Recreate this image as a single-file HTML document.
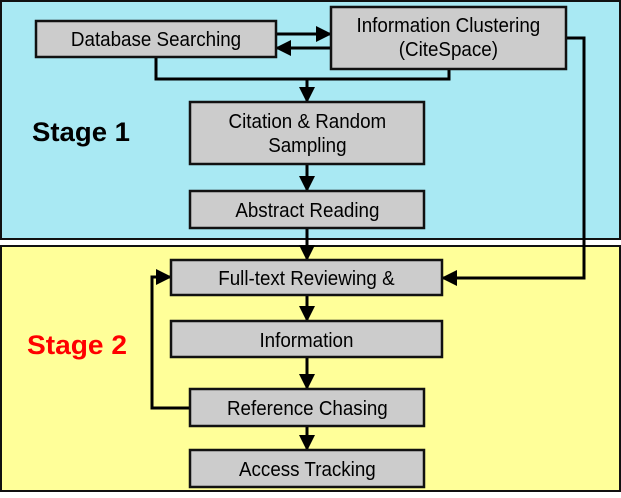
<!DOCTYPE html>
<html><head><style>
body{margin:0;width:621px;height:493px;overflow:hidden;background:#fff}
svg text{font-family:"Liberation Sans",sans-serif}
</style></head><body>
<svg width="621" height="493" viewBox="0 0 621 493" xmlns="http://www.w3.org/2000/svg">
<defs>
<marker id="b" markerWidth="16" markerHeight="16" refX="15" refY="8" orient="auto" markerUnits="userSpaceOnUse"><path d="M0,0 L16,8 L0,16 z" fill="#000"/></marker></defs>
<rect x="1" y="1" width="619" height="238" fill="#A9E9F3" stroke="#111" stroke-width="2"/>
<rect x="1" y="246" width="619" height="245" fill="#FFFF99" stroke="#111" stroke-width="2"/>
<g stroke="#000" stroke-width="3" fill="none">
<polyline points="156,57 156,79 449,79 449,69"/>
<line x1="307" y1="79" x2="307" y2="102" marker-end="url(#b)"/>
<line x1="276" y1="34" x2="331" y2="34" marker-end="url(#b)"/>
<line x1="331" y1="48" x2="276" y2="48" marker-end="url(#b)"/>
<line x1="307" y1="164" x2="307" y2="191" marker-end="url(#b)"/>
<line x1="307" y1="228" x2="307" y2="260" marker-end="url(#b)"/>
<polyline points="566,38 584,38 584,278 442,278" marker-end="url(#b)"/>
<line x1="307" y1="295" x2="307" y2="321" marker-end="url(#b)"/>
<line x1="307" y1="357" x2="307" y2="389" marker-end="url(#b)"/>
<line x1="307" y1="426" x2="307" y2="450" marker-end="url(#b)"/>
<polyline points="190,408 152,408 152,277 171,277" marker-end="url(#b)"/>
</g>
<g fill="#CCCCCC" stroke="#111" stroke-width="2.5">
<rect x="36" y="21" width="240" height="36"/>
<rect x="331" y="7" width="235" height="62"/>
<rect x="190" y="102" width="234" height="62"/>
<rect x="190" y="191" width="234" height="37"/>
<rect x="171" y="260" width="271" height="35"/>
<rect x="171" y="321" width="271" height="36"/>
<rect x="190" y="389" width="234" height="37"/>
<rect x="190" y="450" width="234" height="37"/>
</g>
<g font-size="20" text-anchor="middle" fill="#000" transform="scale(0.94,1)">
<text x="166" y="46">Database Searching</text>
<text x="477" y="32">Information Clustering</text>
<text x="477" y="56">(CiteSpace)</text>
<text x="327" y="128">Citation &amp; Random</text>
<text x="327" y="152">Sampling</text>
<text x="327" y="217">Abstract Reading</text>
<text x="326" y="285">Full-text Reviewing &amp;</text>
<text x="326" y="347">Information</text>
<text x="327" y="415">Reference Chasing</text>
<text x="327" y="476">Access Tracking</text>
</g>
<text x="32" y="141" font-size="27" font-weight="bold" fill="#000" textLength="98" lengthAdjust="spacingAndGlyphs">Stage 1</text>
<text x="27" y="354" font-size="27" font-weight="bold" fill="#FF0000" textLength="100" lengthAdjust="spacingAndGlyphs">Stage 2</text>
</svg>
</body></html>
